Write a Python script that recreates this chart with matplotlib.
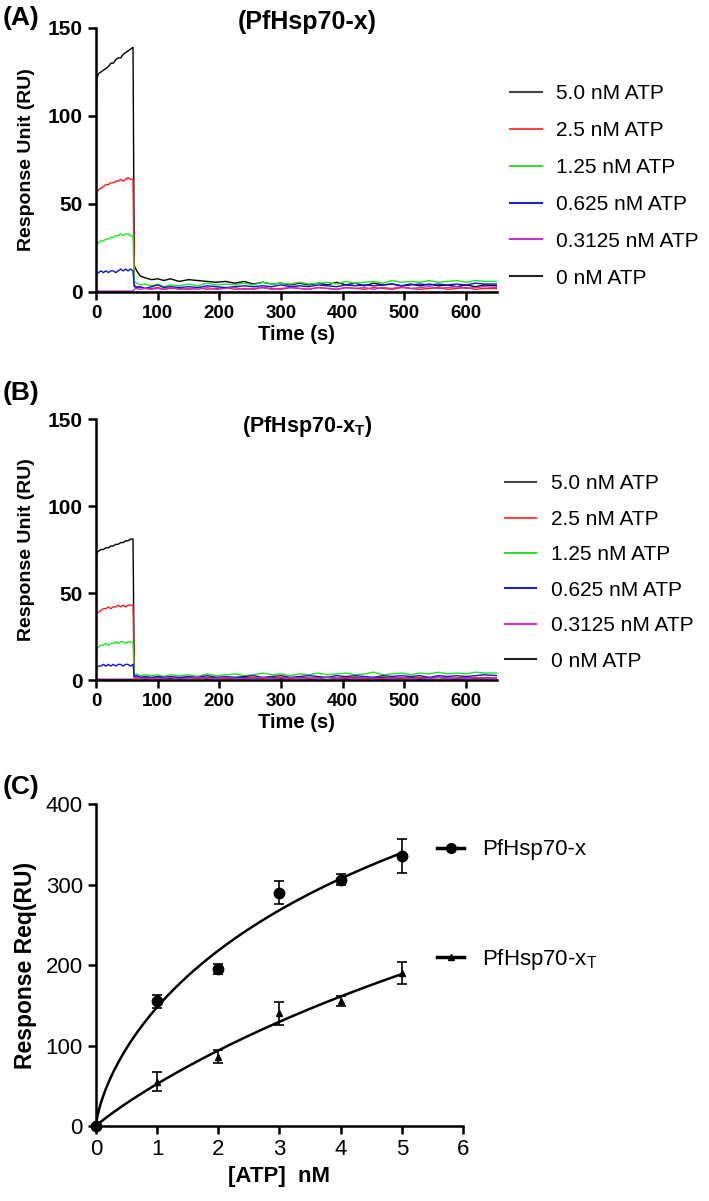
import numpy as np
import matplotlib
matplotlib.use('Agg')
import matplotlib.pyplot as plt
from matplotlib.lines import Line2D

plt.rcParams['font.family'] = ['Liberation Sans', 'DejaVu Sans']
plt.rcParams['mathtext.fontset'] = 'custom'
plt.rcParams['mathtext.rm'] = 'Liberation Sans'

# ---------------- sensorgram data ----------------
time_s = [0, 1, 4, 8, 12, 16, 20, 24, 28, 32, 36, 40, 44, 48, 52, 56, 60,
          62, 66, 72, 80,
          90, 100, 110, 120,
          135, 150, 165, 180, 195, 210, 225, 240, 255, 270, 285, 300, 315, 330,
          345, 360, 375, 390, 405, 420, 435, 450, 465, 480, 495, 510, 525, 540,
          555, 570, 585, 600, 615, 630,
          650]

atp_labels = ['5.0 nM ATP', '2.5 nM ATP', '1.25 nM ATP', '0.625 nM ATP',
              '0.3125 nM ATP', '0 nM ATP']
atp_colors = ['#000000', '#ff1a1a', '#1ee61e', '#1010e0', '#c030c8', '#000000']
legend_colors = ['#444444', '#ff4444', '#33dd33', '#2222cc', '#cc33cc', '#222222']

# panel A, PfHsp70-x
a_50 = [0, 121, 124, 125, 126, 127, 128, 130, 130, 132, 133, 133, 135, 136, 137, 138, 139,
        15, 12, 9, 8,
        7, 7.5, 6.5, 7.5,
        6, 7, 6.5, 6, 5.5, 6, 5, 6, 4.5, 5.5, 4.5, 5, 4, 5, 4, 5, 4, 5.5, 4, 5,
        3.5, 5, 4, 4.5, 3.5, 4.5, 3.5, 4.5, 3.5, 4, 3, 4, 3, 4,
        3.5]
a_25 = [0, 56, 58, 59, 60, 61, 61, 62, 62, 63, 63, 64, 63, 64, 65, 64, 64,
        4, 3, 2.5, 2,
        2, 2.5, 1.5, 2,
        2, 1.5, 2.5, 1.5, 2, 2.5, 1.5, 2, 1.5, 2.5, 2, 1.5, 2.5, 2, 1.5, 2.5, 2, 1.5, 2.5, 2,
        1.5, 2.5, 2, 1.5, 2.5, 2, 1.5, 2, 2.5, 1.5, 2, 2.5, 1.5, 2,
        2]
a_125 = [0, 27, 28, 29, 29, 30, 30, 31, 31, 32, 32, 33, 32, 33, 33, 32, 32,
         6, 5, 4, 4.5,
         3.5, 4.5, 3, 4,
         3.5, 4.5, 3.5, 5, 4, 4.5, 4, 5, 4, 5.5, 4.5, 5, 4.5, 5.5, 4.5, 5, 5.5, 4.5, 6, 5,
         5.5, 6, 5, 6.5, 5.5, 6, 5.5, 6.5, 5.5, 6, 6.5, 5.5, 6.5, 6,
         6]
a_0625 = [0, 10, 11, 12, 11, 12, 11, 12, 12, 11, 12, 13, 12, 13, 12, 13, 12,
          3, 2.5, 3, 2,
          3, 4, 2.5, 3,
          2.5, 3, 2.5, 3.5, 3, 2.5, 3, 3.5, 3, 3.5, 3, 4, 3, 3.5, 3, 4, 3.5, 3, 4, 3.5,
          4, 3.5, 4, 4.5, 3.5, 4, 4.5, 4, 4.5, 4, 4.5, 4, 5, 4.5,
          4.5]
a_03125 = [0, 1.5, 0.5, 0.5, 0.5, 0.5, 0.5, 0.5, 0.5, 0.5, 0.5, 0.5, 0.5, 0.5, 0.5, 0.5, 0.5,
           1.5, 2, 1.5, 2,
           1.5, 2, 1.5, 2.5,
           1.5, 2, 1.5, 2.5, 1.5, 2, 2.5, 1.5, 2, 2.5, 1.5, 2, 2.5, 2, 1.5, 2.5, 2, 1.5, 2.5, 2,
           2.5, 1.5, 2.5, 2, 3, 2, 2.5, 3, 2, 2.5, 3, 2, 2.5, 3,
           2.5]
zero_atp = [0.0] * len(time_s)

# panel B, PfHsp70-x_T
b_50 = [0, 73, 74, 75, 75, 76, 76, 77, 77, 78, 78, 79, 79, 80, 80, 81, 81,
        2, 1.5, 1.5, 1,
        1, 1.5, 1, 1,
        1, 1.5, 1, 1, 1.5, 1, 1, 1.5, 1, 1, 1.5, 1, 1, 1.5, 1, 1, 1.5, 1, 1, 1.5,
        1, 1, 1.5, 1, 1, 1.5, 1, 1, 1.5, 1, 1, 1.5, 1, 1,
        1]
b_25 = [0, 38, 39, 40, 41, 41, 42, 41, 42, 42, 43, 42, 43, 42, 43, 43, 43,
        1.5, 1, 1.5, 1,
        1, 1.5, 1, 1.5,
        1, 1.5, 1, 1.5, 1, 1, 1.5, 1, 1.5, 1, 1, 1.5, 1, 1.5, 1, 1, 1.5, 1, 1.5, 1,
        1, 1.5, 1, 1.5, 1, 1, 1.5, 1, 1.5, 1, 1, 1.5, 1, 1.5,
        1]
b_125 = [0, 18, 19, 20, 20, 21, 20, 21, 21, 22, 21, 22, 22, 21, 22, 22, 21,
         3, 3.5, 2.5, 3,
         2.5, 3, 2, 3,
         2.5, 3, 2, 3.5, 2.5, 3, 3.5, 2.5, 3, 4, 3, 3.5, 2.5, 3.5, 3, 4, 3, 3.5, 4, 3,
         3.5, 4.5, 3, 3.5, 4, 3, 4, 3.5, 4.5, 3.5, 4, 3.5, 4.5, 4,
         4]
b_0625 = [0, 7, 8, 8, 9, 8, 9, 8, 9, 8, 9, 9, 8, 9, 9, 8, 9,
          2, 2.5, 1.5, 2,
          1.5, 2, 1.5, 2,
          1.5, 2, 1.5, 2.5, 1.5, 2, 1.5, 2, 2.5, 1.5, 2, 2.5, 1.5, 2, 2.5, 2, 1.5, 2.5, 2, 2.5,
          2, 1.5, 2.5, 2, 2.5, 2, 2.5, 1.5, 2.5, 2, 2.5, 2, 2.5, 3,
          2.5]
b_03125 = [0, 1, 0.5, 0.5, 0.5, 0.5, 0.5, 0.5, 0.5, 0.5, 0.5, 0.5, 0.5, 0.5, 0.5, 0.5, 0.5,
           1, 1.5, 1, 0.5,
           1, 0.5, 1, 1.5,
           0.5, 1, 1.5, 0.5, 1, 1.5, 1, 0.5, 1, 1.5, 1, 0.5, 1.5, 1, 0.5, 1, 1.5, 1, 0.5, 1,
           1.5, 1, 0.5, 1, 1.5, 1, 0.5, 1, 1.5, 1, 0.5, 1, 1.5, 1,
           1]

# ---------------- steady-state data, panel C ----------------
atp_nm = [0, 1, 2, 3, 4, 5]
req_x = [0, 155, 195, 290, 306, 335]
req_x_err = [0, 8, 6, 14, 7, 21]
req_xt = [0, 55, 86, 140, 155, 190]
req_xt_err = [0, 12, 8, 14, 6, 14]


def fit_hill(x, y):
    # specific binding with Hill slope, Req = Bmax*x^h/(Kd^h + x^h)
    x = np.asarray(x, float)
    y = np.asarray(y, float)
    best = (np.inf, 0, 1, 1)
    for h in np.arange(0.3, 1.51, 0.01):
        for kd in np.logspace(-1, 3, 400):
            g = x ** h / (kd ** h + x ** h)
            bmax = (g @ y) / (g @ g)
            sse = ((y - bmax * g) ** 2).sum()
            if sse < best[0]:
                best = (sse, bmax, kd, h)
    return best[1:]


def style_axes(ax):
    for side in ['top', 'right']:
        ax.spines[side].set_visible(False)
    for side in ['left', 'bottom']:
        ax.spines[side].set_linewidth(1.8)
    ax.tick_params(direction='out', length=6, width=1.8)


fig = plt.figure(figsize=(7.09, 12.01), dpi=100)

panels = [
    ([0.1354, 0.7569, 0.5656, 0.2198], [a_50, a_25, a_125, a_0625, a_03125, zero_atp],
     '(PfHsp70-x)', 18, 0.998, (0.72, 0.930), 0.86),
    ([0.1354, 0.4338, 0.5656, 0.2173], [b_50, b_25, b_125, b_0625, b_03125, zero_atp],
     r'(PfHsp70-x$_\mathregular{T}$)', 15.5, 0.950, (0.712, 0.605), 0.79),
]
for rect, traces, title, tsize, ty, leg_pos, lspace in panels:
    ax = fig.add_axes(rect)
    for y, c in zip(traces, atp_colors):
        ax.plot(time_s, y, color=c, lw=1.0)
    ax.set_xlim(0, 650)
    ax.set_ylim(0, 150)
    ax.set_xticks([0, 100, 200, 300, 400, 500, 600])
    ax.set_yticks([0, 50, 100, 150])
    style_axes(ax)
    for lab in ax.get_xticklabels():
        lab.set_fontsize(13.5)
        lab.set_fontweight('bold')
    for lab in ax.get_yticklabels():
        lab.set_fontsize(15)
        lab.set_fontweight('bold')
    ax.set_xlabel('Time (s)', fontsize=14.5, fontweight='bold', labelpad=2)
    ax.set_ylabel('Response Unit (RU)', fontsize=14, fontweight='bold', labelpad=9)
    ax.text(0.527, ty, title, transform=ax.transAxes, fontsize=tsize, fontweight='bold',
            ha='center', va='baseline')
    handles = [Line2D([], [], color=c, lw=1.5) for c in legend_colors]
    fig.legend(handles, atp_labels, loc='upper left', bbox_to_anchor=leg_pos,
               frameon=False, fontsize=15, handlelength=1.5, handletextpad=0.7,
               labelspacing=lspace, borderpad=0, borderaxespad=0)

# panel C
axc = fig.add_axes([0.1354, 0.0624, 0.5176, 0.2681])
xs = np.linspace(0, 5, 400)
for y, err, mk, ms in [(req_x, req_x_err, 'o', 7.5), (req_xt, req_xt_err, '^', 5)]:
    bmax, kd, h = fit_hill(atp_nm, y)
    axc.plot(xs, bmax * xs ** h / (kd ** h + xs ** h), color='black', lw=1.8)
    axc.errorbar(atp_nm, y, yerr=err, fmt=mk, color='black', ms=ms, capsize=3.5,
                 elinewidth=1.2, capthick=1.2, clip_on=False, zorder=5)
axc.set_xlim(0, 6)
axc.set_ylim(0, 400)
axc.set_xticks([0, 1, 2, 3, 4, 5, 6])
axc.set_yticks([0, 100, 200, 300, 400])
style_axes(axc)
axc.tick_params(labelsize=16)
axc.set_xlabel('[ATP]  nM', fontsize=16, fontweight='bold', labelpad=4)
axc.set_ylabel('Response Req(RU)', fontsize=16.5, fontweight='bold', labelpad=6)
c_handles = [Line2D([], [], color='black', lw=2.5, marker='o', ms=7),
             Line2D([], [], color='black', lw=2.5, marker='^', ms=4)]
fig.legend(c_handles, ['PfHsp70-x', r'PfHsp70-x$_\mathregular{T}$'], loc='upper left',
           bbox_to_anchor=(0.617, 0.301), frameon=False, fontsize=16, handlelength=1.2,
           handletextpad=0.8, labelspacing=3.9, borderpad=0, borderaxespad=0, numpoints=1)

# panel letters
for lab, ypos in [('(A)', 0.985), ('(B)', 0.673), ('(C)', 0.345)]:
    fig.text(0.003, ypos, lab, fontsize=19, fontweight='bold', va='center', ha='left')

fig.savefig('out.png', dpi=100)
